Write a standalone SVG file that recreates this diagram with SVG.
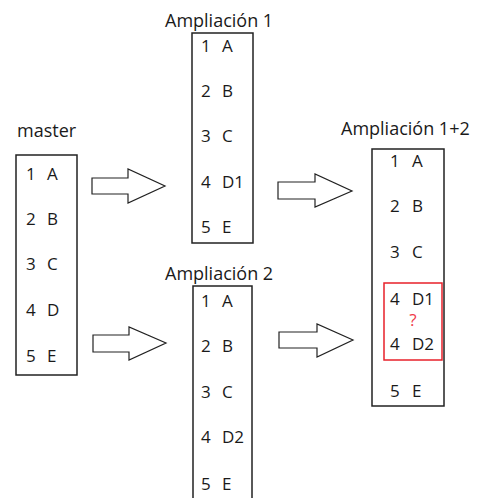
<svg xmlns="http://www.w3.org/2000/svg" width="492" height="498" viewBox="0 0 492 498">
<style>
  .box{fill:#fff;stroke:#222;stroke-width:1.5}
  .red{fill:none;stroke:#e8202a;stroke-width:1.5}
  .t{font-family:"Open Sans","Noto Sans",sans-serif;font-size:17px;fill:#1a1a1a}
  .title{font-family:"Open Sans","Noto Sans",sans-serif;font-size:18px;fill:#1a1a1a}
  .q{font-family:"Open Sans","Noto Sans",sans-serif;font-size:17px;fill:#f03a4a}
  .arrow{fill:#fff;stroke:#222;stroke-width:1.2;stroke-linejoin:miter}
</style>
<rect width="492" height="498" fill="#fff"/>

<g id="master">
  <text class="title" x="17" y="137">master</text>
  <rect class="box" x="16" y="155" width="61" height="220"/>
  <text class="t" x="26" y="180">1</text><text class="t" x="47" y="180">A</text>
  <text class="t" x="26" y="225">2</text><text class="t" x="47" y="225">B</text>
  <text class="t" x="26" y="270">3</text><text class="t" x="47" y="270">C</text>
  <text class="t" x="26" y="316">4</text><text class="t" x="47" y="316">D</text>
  <text class="t" x="26" y="362">5</text><text class="t" x="47" y="362">E</text>
</g>

<g id="ampliacion1">
  <text class="title" x="165" y="27">Ampliación 1</text>
  <rect class="box" x="192" y="33" width="61" height="210"/>
  <text class="t" x="201" y="52">1</text><text class="t" x="222" y="52">A</text>
  <text class="t" x="201" y="97">2</text><text class="t" x="222" y="97">B</text>
  <text class="t" x="201" y="142">3</text><text class="t" x="222" y="142">C</text>
  <text class="t" x="201" y="188">4</text><text class="t" x="222" y="188">D1</text>
  <text class="t" x="201" y="233">5</text><text class="t" x="222" y="233">E</text>
</g>

<g id="ampliacion2">
  <text class="title" x="165" y="280">Ampliación 2</text>
  <rect class="box" x="193" y="286" width="59" height="220"/>
  <text class="t" x="201" y="307">1</text><text class="t" x="222" y="307">A</text>
  <text class="t" x="201" y="352">2</text><text class="t" x="222" y="352">B</text>
  <text class="t" x="201" y="398">3</text><text class="t" x="222" y="398">C</text>
  <text class="t" x="201" y="443">4</text><text class="t" x="222" y="443">D2</text>
  <text class="t" x="201" y="490">5</text><text class="t" x="222" y="490">E</text>
</g>

<g id="ampliacion12">
  <text class="title" x="341" y="135">Ampliación 1+2</text>
  <rect class="box" x="372" y="149" width="72" height="257"/>
  <text class="t" x="390" y="167">1</text><text class="t" x="412" y="167">A</text>
  <text class="t" x="390" y="212">2</text><text class="t" x="412" y="212">B</text>
  <text class="t" x="390" y="258">3</text><text class="t" x="412" y="258">C</text>
  <rect class="red" x="384" y="283" width="58" height="77"/>
  <text class="t" x="390" y="305">4</text><text class="t" x="412" y="305">D1</text>
  <text class="q" x="413" y="326" text-anchor="middle">?</text>
  <text class="t" x="390" y="350">4</text><text class="t" x="412" y="350">D2</text>
  <text class="t" x="390" y="397">5</text><text class="t" x="412" y="397">E</text>
</g>

<g id="connectors">
  <polygon class="arrow" points="92,178 128,178 128,169 165,186 128,203 128,194 92,194"/>
  <polygon class="arrow" points="93,335 129,335 129,327 166,343 129,360 129,352 93,352"/>
  <polygon class="arrow" points="278,182 315,182 315,174 352,191 315,207 315,199 278,199"/>
  <polygon class="arrow" points="279,332 317,332 317,324 353,340 317,357 317,348 279,348"/>
</g>
</svg>
